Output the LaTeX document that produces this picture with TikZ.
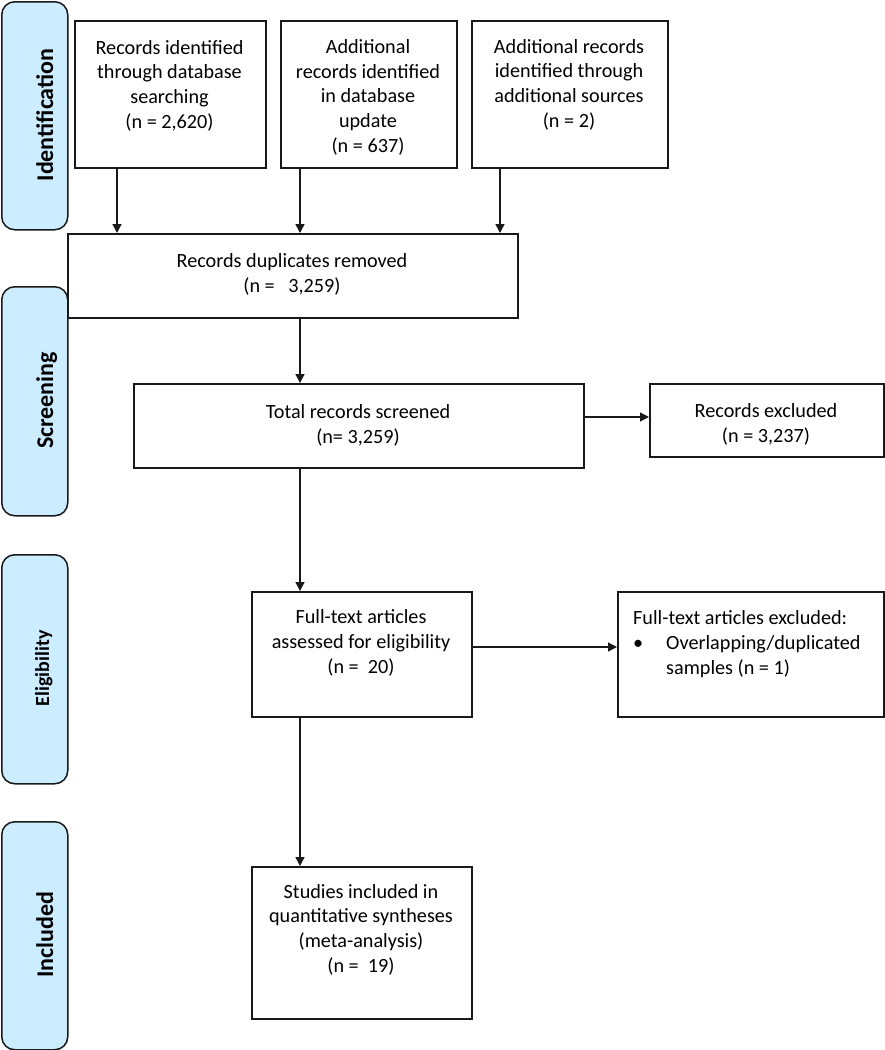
\documentclass[tikz,border=0pt]{standalone}
\usepackage{fontspec}
\setmainfont{Carlito}
\usetikzlibrary{arrows.meta}
\definecolor{sidefill}{RGB}{204,236,255}
\definecolor{ink}{RGB}{25,25,25}
\tikzset{
  box/.style={draw=ink, line width=1.6pt, rectangle, inner sep=0pt, anchor=north west},
  side/.style={draw=ink, line width=1.5pt, fill=sidefill, rounded corners=13pt, inner sep=0pt, anchor=north west},
  sidetxt/.style={rotate=90, anchor=base, inner sep=0pt, font=\fontsize{24}{28}\selectfont\bfseries},
  sidetxts/.style={rotate=90, anchor=base, inner sep=0pt, font=\fontsize{20}{24}\selectfont\bfseries},
  txt/.style={anchor=base, inner sep=0pt, align=center, font=\fontsize{20.2}{24.8}\selectfont},
  ltxt/.style={anchor=base west, inner sep=0pt, align=left, font=\fontsize{20.2}{24.8}\selectfont},
  arr/.style={draw=ink, line width=1.4pt, -{Triangle[width=9pt,length=9pt]}}
}
\begin{document}
\begin{tikzpicture}[x=1pt,y=-1pt]
\useasboundingbox[fill=white] (0,0) rectangle (884,1050);
% side labels
\node[side, minimum width=66pt, minimum height=228pt] (sid) at (1,1) {};
\node[side, minimum width=66pt, minimum height=229pt] (ssc) at (1,286) {};
\node[side, minimum width=66pt, minimum height=229pt] (sel) at (1,554) {};
\node[side, minimum width=66pt, minimum height=228pt] (sin) at (1,821) {};
\node[sidetxt] (tid) at (53,115) {Identification};
\node[sidetxt] (tsc) at (53,400.5) {Screening};
\node[sidetxts] (tel) at (49,668.5) {Eligibility};
\node[sidetxt] (tin) at (53,935) {Included};
% boxes
\node[box, minimum width=191pt, minimum height=147pt] (b1) at (74,20) {};
\node[box, minimum width=176pt, minimum height=147pt] (b2) at (280,20) {};
\node[box, minimum width=196pt, minimum height=147pt] (b3) at (471,20) {};
\node[box, minimum width=450pt, minimum height=84pt] (dup) at (67,233) {};
\node[box, minimum width=450pt, minimum height=84pt] (tot) at (133,383) {};
\node[box, minimum width=234pt, minimum height=73pt] (rex) at (649,383) {};
\node[box, minimum width=220pt, minimum height=125pt] (ft) at (251,591) {};
\node[box, minimum width=266pt, minimum height=125pt] (fex) at (617,591) {};
\node[box, minimum width=220pt, minimum height=152pt] (st) at (251,866) {};
% texts (base anchor = baseline of last line)
\node[txt] (t1) at (169.5,128.5) {Records identified\\through database\\searching\\(n = 2,620)};
\node[txt] (t2) at (368,152.5) {Additional\\records identified\\in database\\update\\(n = 637)};
\node[txt] (t3) at (569,127.5) {Additional records\\identified through\\additional sources\\(n = 2)};
\node[txt] (tdup) at (292,292) {Records duplicates removed\\(n =\ \ \ 3,259)};
\node[txt] (ttot) at (358,443) {Total records screened\\(n= 3,259)};
\node[txt] (trex) at (766,442) {Records excluded\\(n = 3,237)};
\node[txt] (tft) at (361,673.5) {Full-text articles\\assessed for eligibility\\(n =\ \ 20)};
\node[ltxt] (tfex) at (633,674) {Full-text articles excluded:\\\makebox[33pt][l]{•}Overlapping/duplicated\\\hspace*{33pt}samples (n = 1)};
\node[txt] (tst) at (361,972.5) {Studies included in\\quantitative syntheses\\(meta-analysis)\\(n =\ \ 19)};
% arrows
\draw[arr] (b1.south -| 117,0) -- (dup.north -| 117,0);
\draw[arr] (b2.south -| 300,0) -- (dup.north -| 300,0);
\draw[arr] (b3.south -| 500,0) -- (dup.north -| 500,0);
\draw[arr] (dup.south -| 300,0) -- (tot.north -| 300,0);
\draw[arr] (tot.east |- 0,417) -- (rex.west |- 0,417);
\draw[arr] (tot.south -| 300,0) -- (ft.north -| 300,0);
\draw[arr] (ft.east |- 0,647) -- (fex.west |- 0,647);
\draw[arr] (ft.south -| 300,0) -- (st.north -| 300,0);
\end{tikzpicture}
\end{document}
